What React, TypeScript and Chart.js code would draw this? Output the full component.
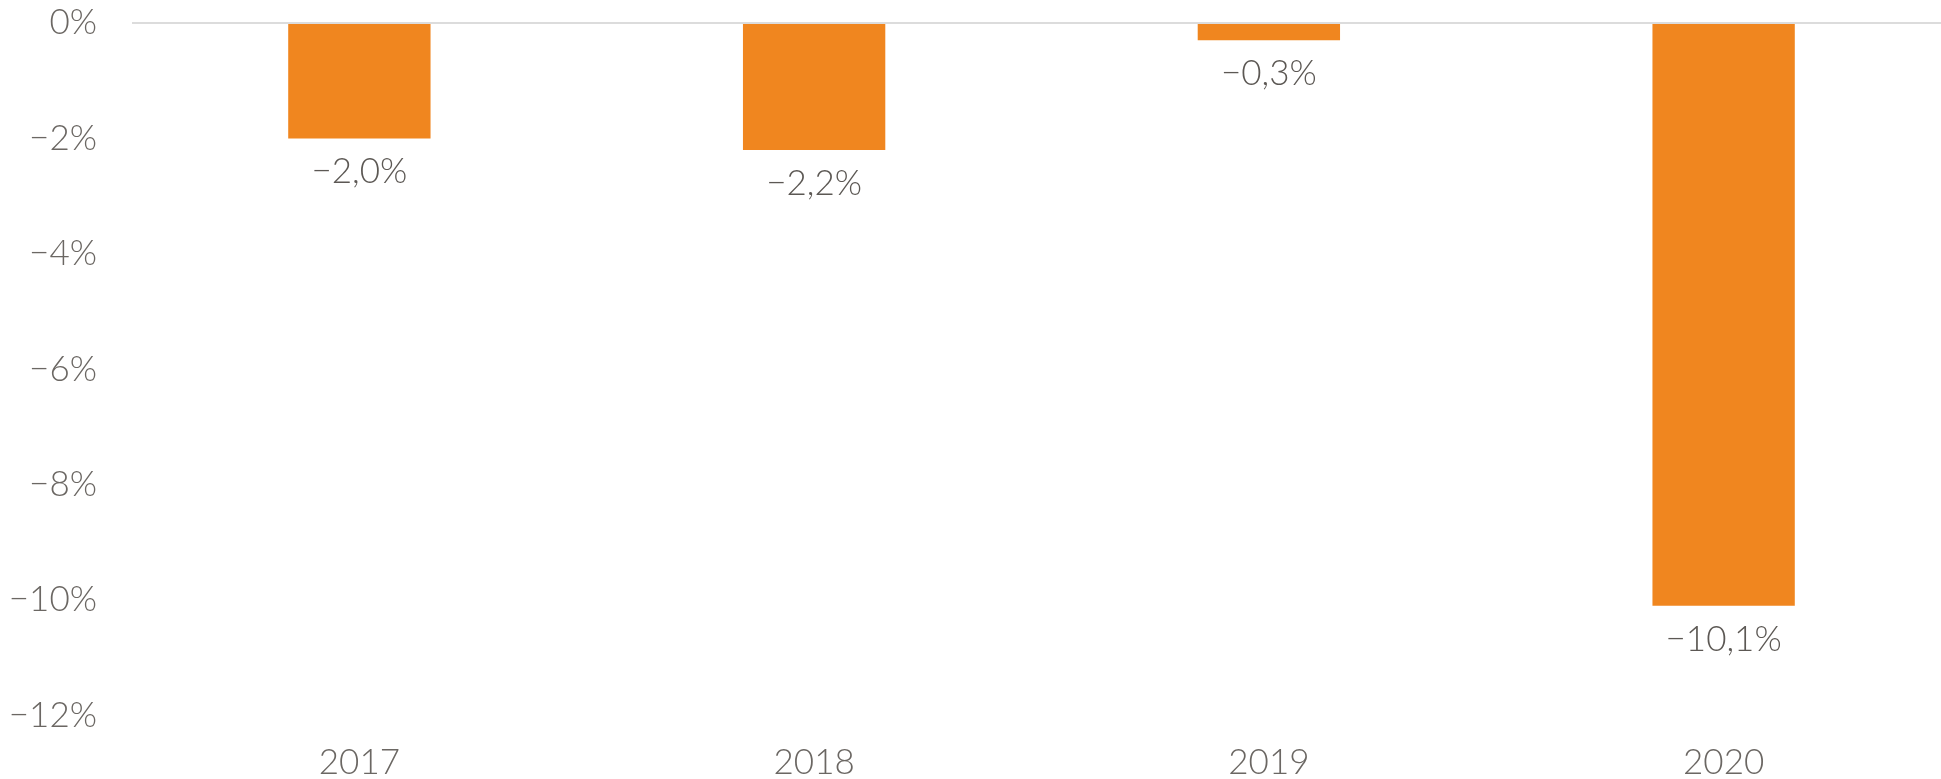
import React, { useEffect, useRef } from "react";
import { Chart, registerables } from "chart.js";

Chart.register(...registerables);

const categories = ["2017", "2018", "2019", "2020"];
const values = [-2.0, -2.2, -0.3, -10.1];
const valueLabels = ["−2,0%", "−2,2%", "−0,3%", "−10,1%"];
const yTicks = [0, -2, -4, -6, -8, -10, -12];

const FONT = "Lato, 'Noto Sans', sans-serif";
const TEXT = "#6b6763";
const LABEL_TEXT = "#5c5854";
const BAR = "#f0861f";
const SIZE = 35;

const labelPlugin = {
  id: "valueLabels",
  afterDatasetsDraw(chart: any) {
    const ctx = chart.ctx;
    const meta = chart.getDatasetMeta(0);
    ctx.save();
    ctx.font = `300 ${SIZE}px ${FONT}`;
    ctx.fillStyle = LABEL_TEXT;
    ctx.textAlign = "center";
    ctx.textBaseline = "alphabetic";
    meta.data.forEach((bar: any, i: number) => {
      ctx.fillText(valueLabels[i], bar.x, bar.y + 45);
    });
    ctx.restore();
  },
};

export default function App() {
  const ref = useRef<HTMLCanvasElement | null>(null);
  useEffect(() => {
    document.body.style.margin = "0";
    const chart = new Chart(ref.current as HTMLCanvasElement, {
      type: "bar",
      data: {
        labels: categories,
        datasets: [
          {
            data: values,
            backgroundColor: BAR,
            borderWidth: 0,
            barPercentage: 0.626,
            categoryPercentage: 0.5,
          },
        ],
      },
      options: {
        animation: false,
        responsive: false,
        maintainAspectRatio: false,
        layout: { padding: { top: 23, right: 0, left: 0, bottom: 0 } },
        plugins: { legend: { display: false }, tooltip: { enabled: false } },
        scales: {
          x: {
            grid: { display: false },
            border: { display: false },
            ticks: {
              color: TEXT,
              font: { family: FONT, size: SIZE, weight: "300" as any },
              padding: 18,
            },
            afterFit(scale: any) {
              scale.height = 63.5;
              scale.paddingLeft = 0;
              scale.paddingRight = 0;
            },
          },
          y: {
            min: -12,
            max: 0,
            afterBuildTicks(scale: any) {
              scale.ticks = yTicks.map((v) => ({ value: v }));
            },
            grid: {
              color: (c: any) => (c.tick && c.tick.value === 0 ? "#dcdcdc" : "rgba(0,0,0,0)"),
              lineWidth: 2,
              drawTicks: false,
            },
            border: { display: false },
            ticks: {
              color: TEXT,
              font: { family: FONT, size: SIZE, weight: "300" as any },
              padding: 35,
              callback: (v: any) => `${Number(v) < 0 ? "−" + Math.abs(Number(v)) : v}%`,
            },
            afterFit(scale: any) {
              scale.width = 132;
              scale.paddingTop = 0;
              scale.paddingBottom = 0;
            },
          },
        },
      },
      plugins: [labelPlugin],
    });
    return () => chart.destroy();
  }, []);
  return (
    <div style={{ width: 1941, height: 779, overflow: "hidden" }}>
      <canvas ref={ref} width={1951} height={779} style={{ display: "block" }} />
    </div>
  );
}
